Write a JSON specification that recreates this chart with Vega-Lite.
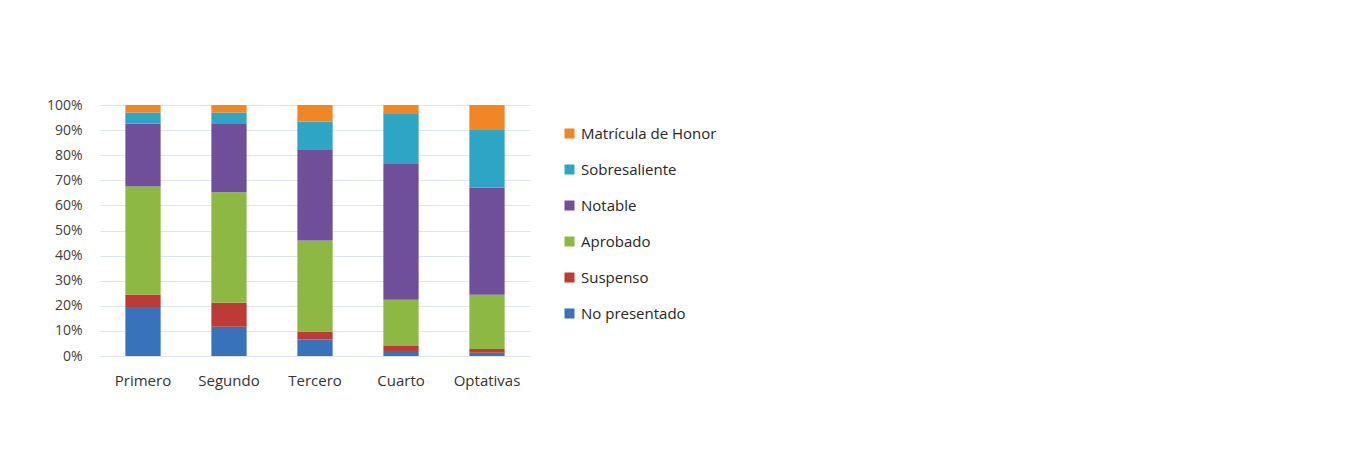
{
  "$schema": "https://vega.github.io/schema/vega-lite/v6.json",
  "autosize": "none",
  "width": 430,
  "height": 251,
  "padding": {"left": 100, "top": 105, "right": 816, "bottom": 96},
  "background": "white",
  "config": {
    "view": {"stroke": null},
    "font": "Open Sans"
  },
  "data": {
    "values": [
      {"curso": "Primero", "nota": "No presentado", "k": 1, "v": 19.5},
      {"curso": "Primero", "nota": "Suspenso", "k": 2, "v": 5},
      {"curso": "Primero", "nota": "Aprobado", "k": 3, "v": 43},
      {"curso": "Primero", "nota": "\u2002Notable", "k": 4, "v": 25},
      {"curso": "Primero", "nota": "Sobresaliente", "k": 5, "v": 4.5},
      {"curso": "Primero", "nota": "Matrícula de Honor", "k": 6, "v": 3},
      {"curso": "Segundo", "nota": "No presentado", "k": 1, "v": 11.7},
      {"curso": "Segundo", "nota": "Suspenso", "k": 2, "v": 9.5},
      {"curso": "Segundo", "nota": "Aprobado", "k": 3, "v": 44},
      {"curso": "Segundo", "nota": "\u2002Notable", "k": 4, "v": 27.5},
      {"curso": "Segundo", "nota": "Sobresaliente", "k": 5, "v": 4.3},
      {"curso": "Segundo", "nota": "Matrícula de Honor", "k": 6, "v": 3},
      {"curso": "Tercero", "nota": "No presentado", "k": 1, "v": 6.6},
      {"curso": "Tercero", "nota": "Suspenso", "k": 2, "v": 3.1},
      {"curso": "Tercero", "nota": "Aprobado", "k": 3, "v": 36.3},
      {"curso": "Tercero", "nota": "\u2002Notable", "k": 4, "v": 36.4},
      {"curso": "Tercero", "nota": "Sobresaliente", "k": 5, "v": 11},
      {"curso": "Tercero", "nota": "Matrícula de Honor", "k": 6, "v": 6.6},
      {"curso": "Cuarto", "nota": "No presentado", "k": 1, "v": 2},
      {"curso": "Cuarto", "nota": "Suspenso", "k": 2, "v": 2},
      {"curso": "Cuarto", "nota": "Aprobado", "k": 3, "v": 18.4},
      {"curso": "Cuarto", "nota": "\u2002Notable", "k": 4, "v": 54.4},
      {"curso": "Cuarto", "nota": "Sobresaliente", "k": 5, "v": 19.6},
      {"curso": "Cuarto", "nota": "Matrícula de Honor", "k": 6, "v": 3.6},
      {"curso": "Optativas", "nota": "No presentado", "k": 1, "v": 1.3},
      {"curso": "Optativas", "nota": "Suspenso", "k": 2, "v": 1.5},
      {"curso": "Optativas", "nota": "Aprobado", "k": 3, "v": 21.6},
      {"curso": "Optativas", "nota": "\u2002Notable", "k": 4, "v": 42.6},
      {"curso": "Optativas", "nota": "Sobresaliente", "k": 5, "v": 23},
      {"curso": "Optativas", "nota": "Matrícula de Honor", "k": 6, "v": 10}
    ]
  },
  "mark": {"type": "bar", "width": {"band": 0.41}},
  "encoding": {
    "x": {
      "field": "curso",
      "type": "nominal",
      "sort": ["Primero", "Segundo", "Tercero", "Cuarto", "Optativas"],
      "scale": {"paddingInner": 0, "paddingOuter": 0},
      "axis": {
        "title": null,
        "labelAngle": 0,
        "domain": false,
        "ticks": false,
        "labelPadding": 17,
        "labelFontSize": 15,
        "labelColor": "#333333"
      }
    },
    "y": {
      "field": "v",
      "type": "quantitative",
      "stack": "normalize",
      "scale": {"domain": [0, 1]},
      "axis": {
        "title": null,
        "format": ".0%",
        "values": [0, 0.1, 0.2, 0.3, 0.4, 0.5, 0.6, 0.7, 0.8, 0.9, 1],
        "domain": false,
        "ticks": false,
        "labelPadding": 18,
        "labelFontSize": 14,
        "labelColor": "#404040",
        "gridColor": "#dce4f2",
        "gridWidth": 1.2
      }
    },
    "order": {"field": "k", "type": "quantitative", "sort": "ascending"},
    "color": {
      "field": "nota",
      "type": "nominal",
      "scale": {
        "domain": ["Matrícula de Honor", "Sobresaliente", "\u2002Notable", "Aprobado", "Suspenso", "No presentado"],
        "range": ["#f08624", "#2ea5c4", "#6f4f9a", "#8cb843", "#bd3a37", "#3872ba"]
      },
      "legend": {
        "title": null,
        "orient": "none",
        "legendX": 462,
        "legendY": 21,
        "symbolType": "square",
        "symbolSize": 100,
        "symbolStrokeWidth": 0,
        "labelFontSize": 15,
        "labelColor": "#262626",
        "labelOffset": 4,
        "rowPadding": 20,
        "labelLimit": 300
      }
    }
  }
}
